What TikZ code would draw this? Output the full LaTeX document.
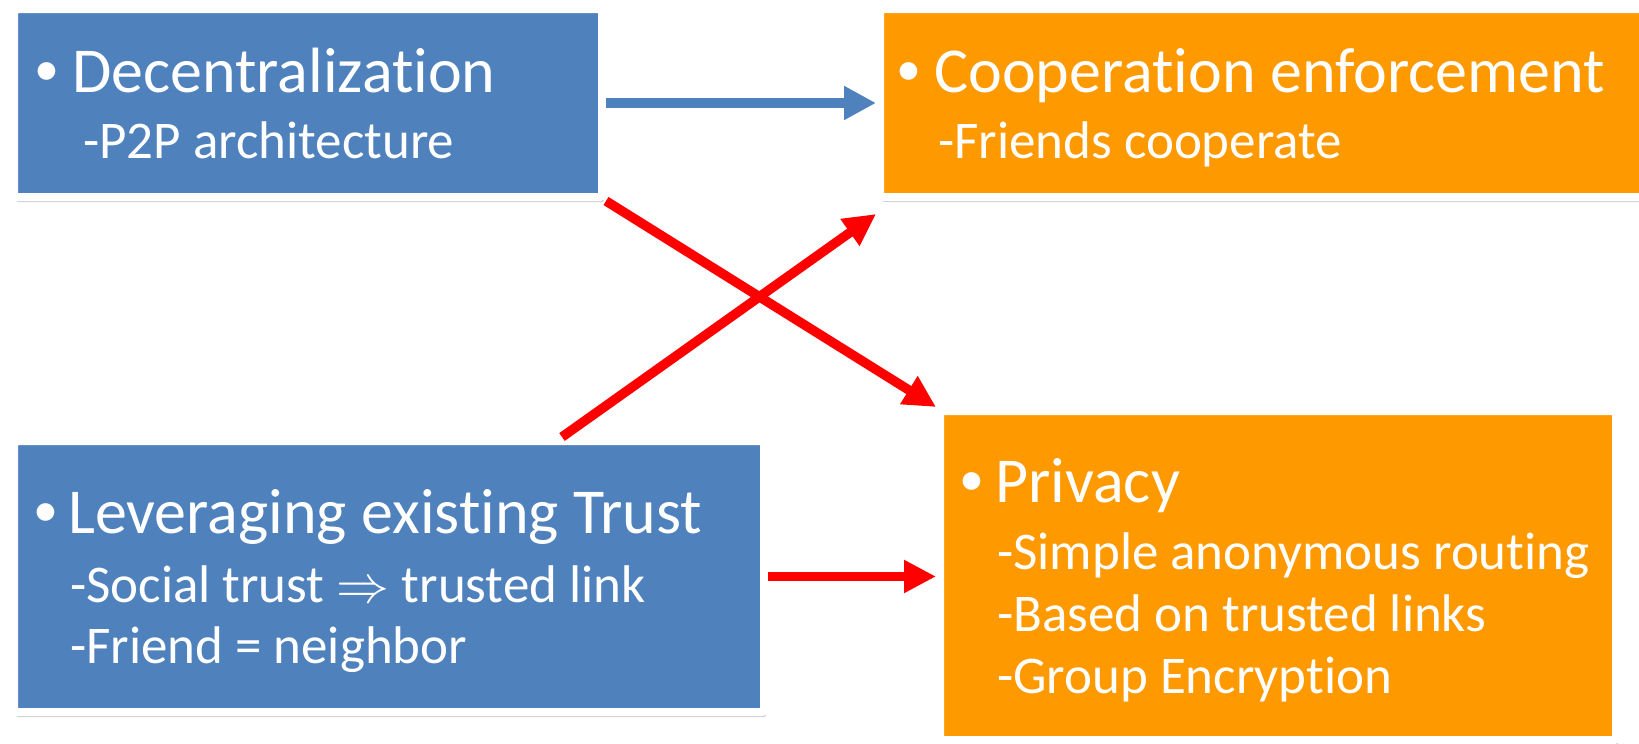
\RequirePackage{fix-cm}
\documentclass[tikz,border=0pt]{standalone}
\usepackage{fontspec}
\setmainfont{Carlito}[Ligatures=NoCommon]
\usetikzlibrary{arrows.meta,shadows,calc}
\definecolor{boxblue}{HTML}{4F81BD}
\definecolor{boxorange}{HTML}{FF9900}
\definecolor{arrred}{HTML}{FF0000}
\tikzset{
  panel/.style={rectangle, draw=white, line width=8pt, rounded corners=2pt, inner sep=0pt,
     drop shadow={shadow xshift=2pt, shadow yshift=-5pt, opacity=.35, fill=black!55}},
  bluepanel/.style={panel, fill=boxblue},
  orangepanel/.style={panel, fill=boxorange},
  bullettxt/.style={anchor=base west, inner sep=0pt, text=white, font=\fontsize{50}{50}\selectfont},
  headtxt/.style={anchor=base west, inner sep=0pt, text=white, font=\fontsize{64}{64}\selectfont},
  subtxt/.style={anchor=base west, inner sep=0pt, text=white, font=\fontsize{53}{53}\selectfont},
  bluearrow/.style={draw=boxblue, line width=9.5pt, -{Triangle[length=32pt, width=32pt]}},
  redarrow/.style={draw=arrred, line width=9.5pt, -{Triangle[length=32pt, width=31pt]}},
}
\begin{document}
\begin{tikzpicture}[x=1pt, y=-1pt]
\useasboundingbox (0,0) rectangle (1639,744);
% panels
\node[bluepanel, minimum width=588pt, minimum height=188pt] (d) at (308,103) {};
\node[orangepanel, minimum width=780pt, minimum height=188pt] (c) at (1270,103) {};
\node[bluepanel, minimum width=750pt, minimum height=271pt] (l) at (389,576.5) {};
\node[orangepanel, minimum width=676pt, minimum height=329pt] (p) at (1278,575.5) {};
% texts
\node[bullettxt] (d0) at (34,85.5) {•};
\node[headtxt] (d1) at (72,92) {Decentralization};
\node[subtxt] (d2) at (83,158) {-P2P architecture};
\node[bullettxt] (c0) at (896,85.5) {•};
\node[headtxt] (c1) at (934,92) {Cooperation enforcement};
\node[subtxt] (c2) at (938,158) {-Friends cooperate};
\node[bullettxt] (l0) at (33,526.5) {•};
\node[headtxt] (l1) at (68,533) {Leveraging existing Trust};
\node[subtxt] (l2) at (70,602) {-Social trust $\Rightarrow$ trusted link};
\node[subtxt] (l3) at (70,663) {-Friend = neighbor};
\node[bullettxt] (p0) at (959,495.5) {•};
\node[headtxt] (p1) at (995,502) {Privacy};
\node[subtxt] (p2) at (997,569) {-Simple anonymous routing};
\node[subtxt] (p3) at (997,631) {-Based on trusted links};
\node[subtxt] (p4) at (997,693) {-Group Encryption};
% connectors
\draw[bluearrow] (d.east) -- (c.west |- d.east);
\draw[redarrow] (d.south east) -- (p.north west);
\draw[redarrow] ([xshift=552pt]l.north west) -- ([yshift=-13pt]c.south west);
\draw[redarrow] (l.east) -- (p.west |- l.east);
\end{tikzpicture}
\end{document}
